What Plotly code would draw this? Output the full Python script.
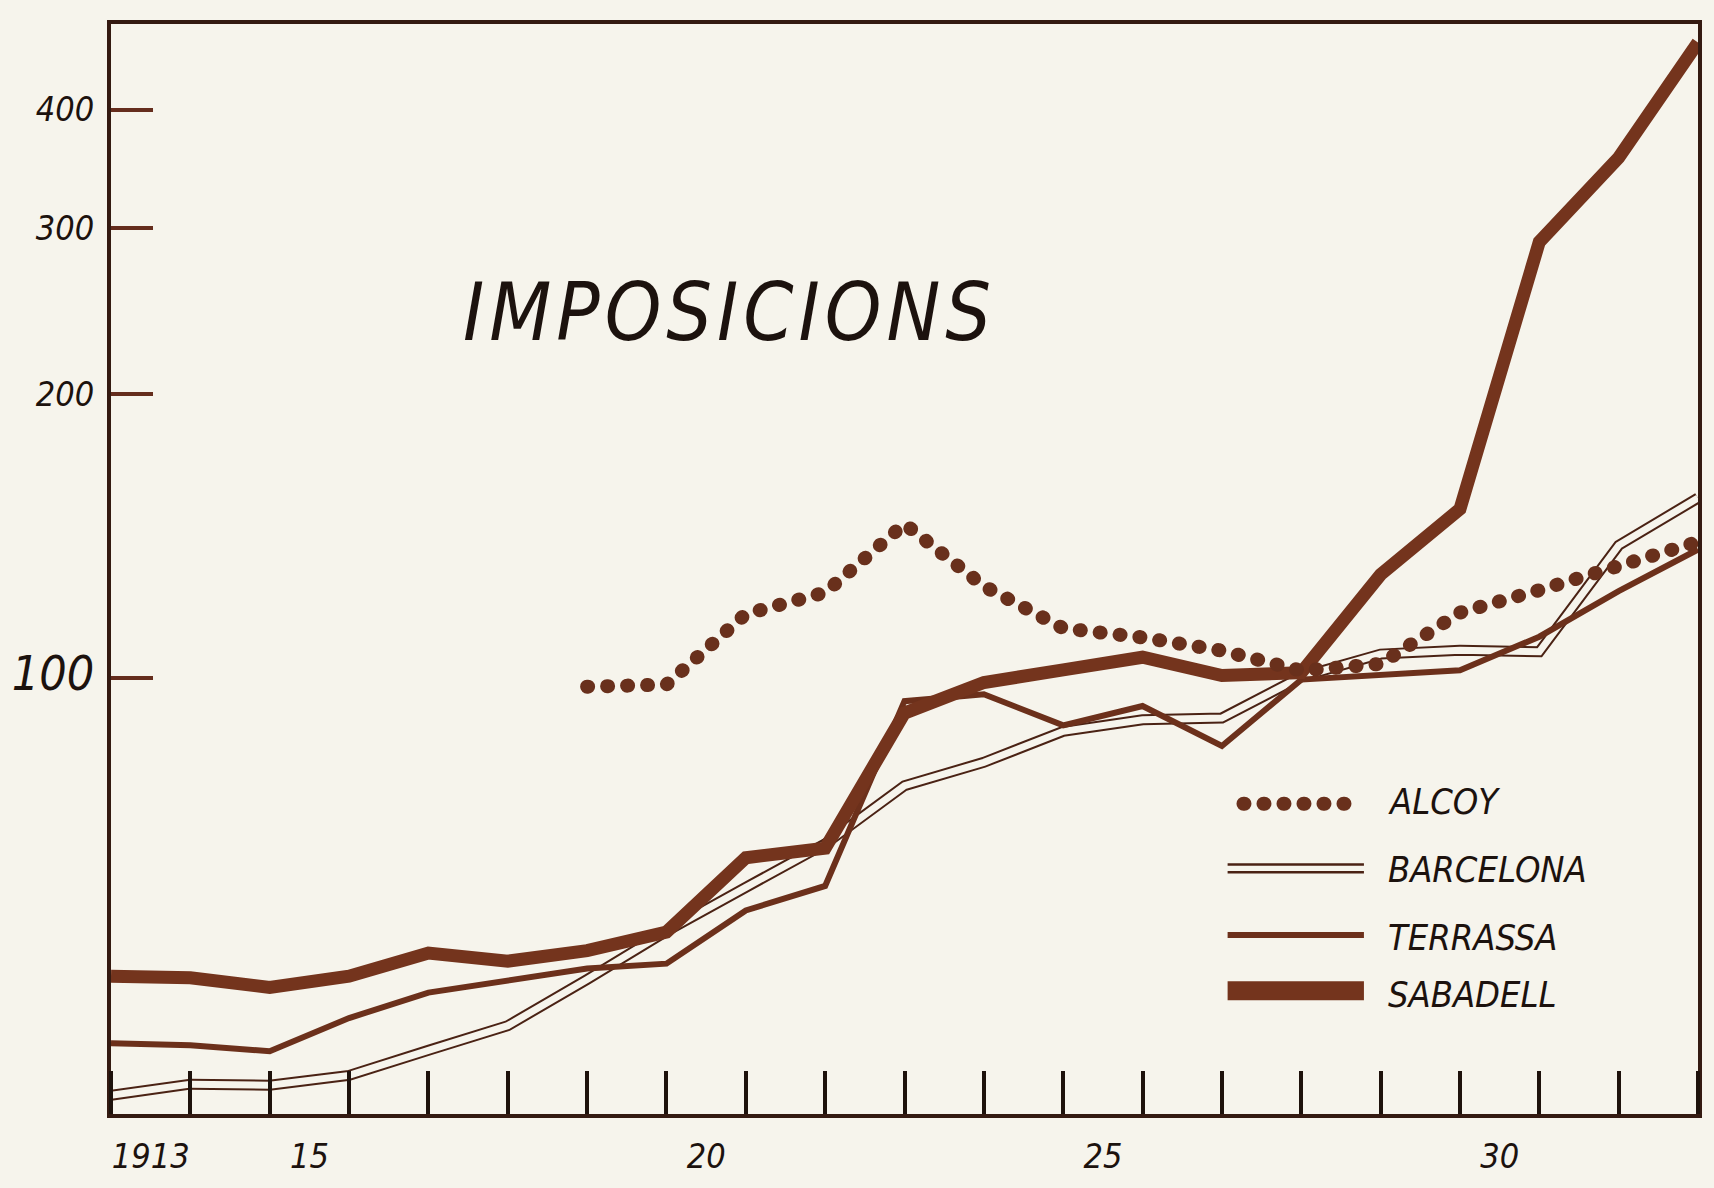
import plotly.graph_objects as go

# ---------------- data ----------------
years = list(range(1913, 1934))
alcoy_years = list(range(1919, 1934))

sabadell = [48.4, 48.2, 47.1, 48.4, 51.2, 50.2, 51.5, 53.9, 64.6, 66.1, 91.9,
            99.0, 102.1, 105.3, 100.7, 101.4, 128.8, 151.1, 289.7, 355.8, 471.0]
terrassa = [41.1, 40.9, 40.3, 43.7, 46.5, 47.9, 49.3, 49.9, 56.8, 60.3, 94.6,
            96.2, 89.2, 93.5, 84.8, 99.7, 100.8, 102.0, 110.7, 123.7, 136.9]
barcelona = [36.2, 37.2, 37.1, 38.0, 40.4, 42.9, 48.0, 54.0, 60.1, 66.8, 77.0,
             81.5, 87.9, 90.4, 90.8, 100.4, 106.1, 107.1, 106.7, 138.3, 155.2]
alcoy = [98.0, 98.5, 117.0, 123.3, 145.7, 125.2, 113.0, 110.5, 107.0, 101.9,
         103.6, 117.4, 124.0, 131.1, 139.5]

y_tickvals = [100, 200, 300, 400]
y_ticktext = ['<span style="font-size:48px">100</span>', "200", "300", "400"]
x_label_years = [1913, 1915, 1920, 1925, 1930]
x_label_text = ["1913", "15", "20", "25", "30"]
series_names = ["ALCOY", "BARCELONA", "TERRASSA", "SABADELL"]
title_text = "IMPOSICIONS"

# ---------------- styles ----------------
BG = "#f6f4ec"
FRAME = "#341a11"
C_SAB = "#74341d"
C_TER = "#6c301b"
C_BAR = "#4a2214"
C_ALC = "#69301c"
C_YTICK = "#652d1d"
C_XTICK = "#1e120c"
TXT = "#1c120e"
FONT = "DejaVu Sans Condensed, Liberation Sans Narrow, DejaVu Sans, sans-serif"
ALC_DASH = "1px,19px"

fig = go.Figure()

# Barcelona: double thin line (outer dark stroke + inner paper-coloured stroke)
fig.add_trace(go.Scatter(x=years, y=barcelona, mode="lines", name="BARCELONA",
                         line=dict(color=C_BAR, width=11), hoverinfo="skip"))
fig.add_trace(go.Scatter(x=years, y=barcelona, mode="lines", showlegend=False,
                         line=dict(color=BG, width=7), hoverinfo="skip"))
fig.add_trace(go.Scatter(x=years, y=terrassa, mode="lines", name="TERRASSA",
                         line=dict(color=C_TER, width=6)))
fig.add_trace(go.Scatter(x=years, y=sabadell, mode="lines", name="SABADELL",
                         line=dict(color=C_SAB, width=13)))
fig.add_trace(go.Scatter(x=alcoy_years, y=alcoy, mode="lines", name="ALCOY",
                         line=dict(color=C_ALC, width=14, dash=ALC_DASH)))

# ---------------- hand-made legend (glyphs + labels) ----------------
leg_x0, leg_x1, lab_x = 0.7036, 0.7895, 0.8033
leg_y = [0.2847, 0.2254, 0.1642, 0.1131]
lab_y = [0.2865, 0.2245, 0.1615, 0.1095]
shapes = [
    dict(type="line", xref="paper", yref="paper", x0=0.7136, x1=0.7888,
         y0=leg_y[0], y1=leg_y[0], line=dict(color=C_ALC, width=14, dash=ALC_DASH)),
    dict(type="line", xref="paper", yref="paper", x0=leg_x0, x1=leg_x1,
         y0=leg_y[1] + 0.0036, y1=leg_y[1] + 0.0036, line=dict(color=C_BAR, width=2.5)),
    dict(type="line", xref="paper", yref="paper", x0=leg_x0, x1=leg_x1,
         y0=leg_y[1] - 0.0036, y1=leg_y[1] - 0.0036, line=dict(color=C_BAR, width=2.5)),
    dict(type="line", xref="paper", yref="paper", x0=leg_x0, x1=leg_x1,
         y0=leg_y[2], y1=leg_y[2], line=dict(color=C_TER, width=6)),
    dict(type="line", xref="paper", yref="paper", x0=leg_x0, x1=leg_x1,
         y0=leg_y[3], y1=leg_y[3], line=dict(color=C_SAB, width=19)),
]
annotations = [
    dict(text=name, xref="paper", yref="paper", x=lab_x, y=yy, xanchor="left",
         yanchor="middle", showarrow=False,
         font=dict(family=FONT, size=36, color=TXT, style="italic"))
    for name, yy in zip(series_names, lab_y)
]
annotations.append(dict(text='<span style="letter-spacing:5px">' + title_text + '</span>',
                        xref="paper", yref="paper", x=0.3897, y=0.7354,
                        xanchor="center", yanchor="middle", showarrow=False,
                        font=dict(family=FONT, size=80, color=TXT, style="italic")))

fig.update_layout(
    width=1714, height=1188,
    margin=dict(l=105, r=13, t=24, b=68, pad=0),
    paper_bgcolor=BG, plot_bgcolor=BG,
    showlegend=False,
    shapes=shapes, annotations=annotations,
    xaxis=dict(range=[1913, 1933], tickmode="array",
               tickvals=[y + 0.5 for y in x_label_years], ticktext=x_label_text,
               ticks="", showgrid=False, zeroline=False,
               showline=True, linewidth=4, linecolor=FRAME, mirror=True,
               tickfont=dict(family=FONT, size=34, color=TXT, style="italic"),
               ticklabelstandoff=9,
               minor=dict(tickmode="linear", tick0=1913, dtick=1, ticks="inside",
                          ticklen=43, tickwidth=4, tickcolor=C_XTICK, showgrid=False)),
    yaxis=dict(type="log", range=[1.53895, 2.69263], tickmode="array",
               tickvals=y_tickvals, ticktext=y_ticktext,
               ticks="inside", ticklen=42, tickwidth=4, tickcolor=C_YTICK,
               showgrid=False, zeroline=False,
               showline=True, linewidth=4, linecolor=FRAME, mirror=True,
               tickfont=dict(family=FONT, size=34, color=TXT, style="italic"),
               ticklabelstandoff=6),
)

post = """
document.body.style.margin='0';
document.body.style.overflow='hidden';
function rc(){document.querySelectorAll('path').forEach(function(p){var d=p.style.strokeDasharray; if(d && d!=='none'){p.style.strokeLinecap='round';}});}
rc(); setTimeout(rc,50); setTimeout(rc,300);
var gd=document.getElementById('{plot_id}'); if(gd && gd.on){gd.on('plotly_afterplot', rc);}
"""

fig.write_html("out.html", config={"displayModeBar": False}, post_script=post)
